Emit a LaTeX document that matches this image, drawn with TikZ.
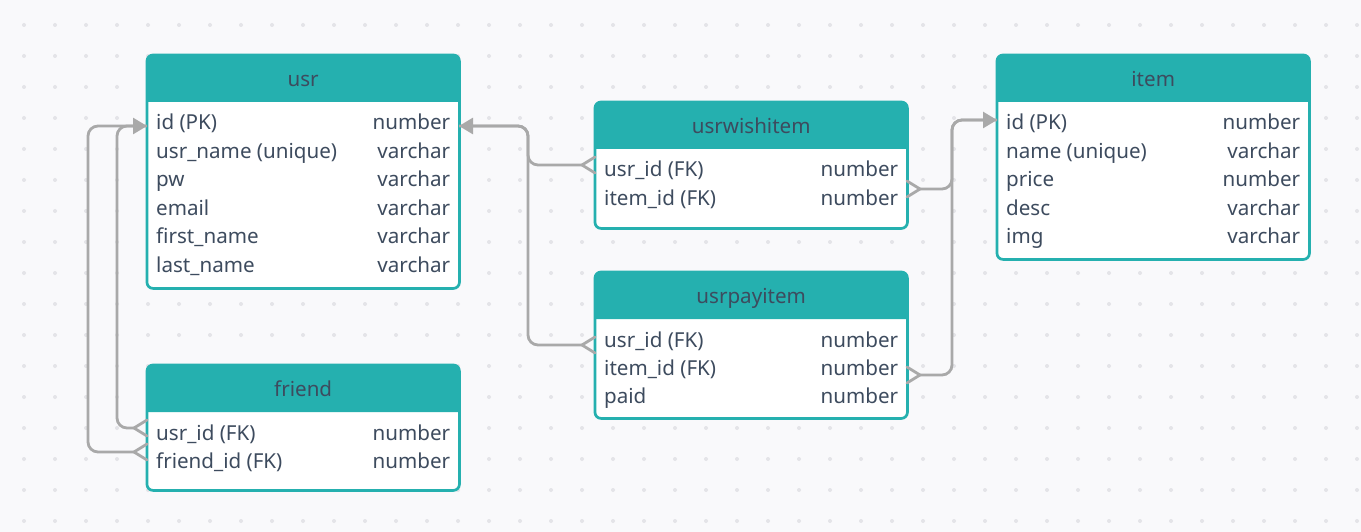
\documentclass[tikz,border=0pt]{standalone}
\usepackage{fontspec}
\setmainfont{Noto Sans}
\usetikzlibrary{arrows.meta,calc}
\definecolor{bgc}{HTML}{F9F9FB}
\definecolor{dotc}{HTML}{E4E4E8}
\definecolor{teal}{HTML}{25B0AF}
\definecolor{txt}{HTML}{3D4B5E}
\definecolor{conc}{HTML}{A9A9A9}
\tikzset{
  tblbody/.style={anchor=north west, fill=white, inner sep=0pt, rounded corners=6pt},
  tblborder/.style={draw=teal, line width=2.7pt, rounded corners=6pt},
  hdrtext/.style={anchor=base, inner sep=0pt, text=txt, font=\fontsize{20.6}{23}\selectfont},
  lcell/.style={anchor=base west, inner sep=0pt, text=txt, font=\fontsize{20.6}{23}\selectfont},
  rcell/.style={anchor=base east, inner sep=0pt, text=txt, font=\fontsize{20.6}{23}\selectfont},
  conn/.style={draw=conc, line width=2.8pt, rounded corners=10pt},
  arr/.style={-{Triangle[length=14pt,width=16pt]}},
  crowline/.style={draw=conc, line width=2.8pt, line cap=round},
}
% #1 name, #2 x1, #3 y1, #4 width, #5 height, #6 title
\newcommand\ertable[6]{%
  \node[tblbody, minimum width=#4pt, minimum height=#5pt] (#1) at (#2,#3) {};
  \fill[teal] ([yshift=-47pt]#1.north west) [rounded corners=6pt] -- (#1.north west) -- (#1.north east) [sharp corners] -- ([yshift=-47pt]#1.north east) -- cycle;
  \draw[tblborder] (#1.north west) rectangle (#1.south east);
  \node[hdrtext] (#1-title) at ($(#1.north)+(0,31.5)$) {#6};
}
% #1 name, #2 row index (0-based), #3 left text, #4 right text
\newcommand\errow[4]{%
  \node[lcell] (#1-l#2) at ($(#1.north west)+(9,75+28.4*#2)$) {#3};
  \node[rcell] (#1-r#2) at ($(#1.north east)+(-9,75+28.4*#2)$) {#4};
}
\begin{document}
\begin{tikzpicture}[x=1pt,y=-1pt]
\useasboundingbox (0,0) rectangle (1361,532);
\fill[bgc] (0,0) rectangle (1361,532);
\foreach \i in {0,...,43} \foreach \j in {0,...,16} \fill[dotc] (24+31*\i,25+31*\j) circle (2pt);

% tables
\ertable{usr}{147}{55}{312}{233}{usr}
\errow{usr}{0}{id (PK)}{number}
\errow{usr}{1}{usr\_name (unique)}{varchar}
\errow{usr}{2}{pw}{varchar}
\errow{usr}{3}{email}{varchar}
\errow{usr}{4}{first\_name}{varchar}
\errow{usr}{5}{last\_name}{varchar}

\ertable{friend}{147}{365}{312}{125}{friend}
\errow{friend}{0}{usr\_id (FK)}{number}
\errow{friend}{1}{friend\_id (FK)}{number}

\ertable{wish}{595}{102}{312}{126}{usrwishitem}
\errow{wish}{0}{usr\_id (FK)}{number}
\errow{wish}{1}{item\_id (FK)}{number}

\ertable{pay}{595}{272}{312}{146}{usrpayitem}
\errow{pay}{0}{usr\_id (FK)}{number}
\errow{pay}{1}{item\_id (FK)}{number}
\errow{pay}{2}{paid}{number}

\ertable{item}{997}{55}{312}{204}{item}
\errow{item}{0}{id (PK)}{number}
\errow{item}{1}{name (unique)}{varchar}
\errow{item}{2}{price}{number}
\errow{item}{3}{desc}{varchar}
\errow{item}{4}{img}{varchar}

% connector end points
\coordinate (usrIdW) at (147,126);
\coordinate (usrIdE) at (459,126);
\coordinate (itemIdW) at (997,120);
\coordinate (frU) at (134,428);
\coordinate (frF) at (134,452);
\coordinate (wishU) at (582,165);
\coordinate (payU) at (582,345);
\coordinate (wishI) at (920,189);
\coordinate (payI) at (920,375);

% connectors
\draw[conn] (frF) -- (88,452) -- (88,126) -- (usrIdW);
\draw[conn,arr] (frU) -- (117,428) -- (117,126) -- (usrIdW);
\draw[conn] (payU) -- (528,345) -- (528,126) -- (usrIdE);
\draw[conn,arr] (wishU) -- (528,165) -- (528,126) -- (usrIdE);
\draw[conn] (payI) -- (952,375) -- (952,120) -- (itemIdW);
\draw[conn,arr] (wishI) -- (952,189) -- (952,120) -- (itemIdW);

% crow's feet
\draw[crowline] (147,420) -- (frU) -- (147,436);
\draw[crowline] (147,444) -- (frF) -- (147,460);
\draw[crowline] (595,157) -- (wishU) -- (595,173);
\draw[crowline] (595,337) -- (payU) -- (595,353);
\draw[crowline] (907,181) -- (wishI) -- (907,197);
\draw[crowline] (907,367) -- (payI) -- (907,383);
\end{tikzpicture}
\end{document}
